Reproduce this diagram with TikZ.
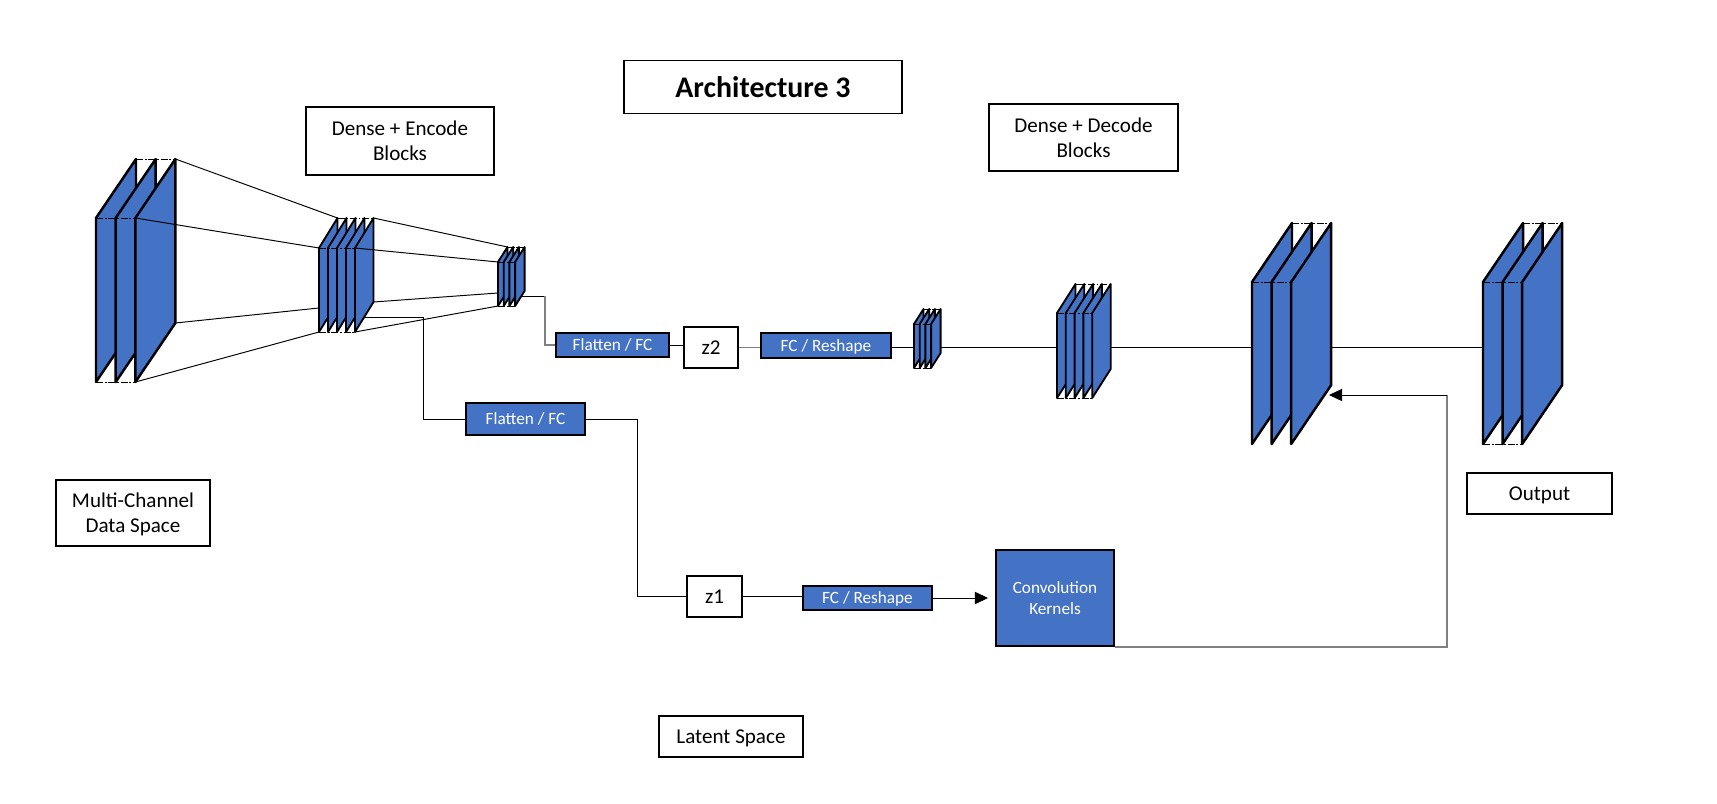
\documentclass[tikz,border=0pt]{standalone}
\usepackage{fontspec}
\setmainfont{Carlito}
\usetikzlibrary {arrows.meta}
\definecolor{plateblue}{HTML}{4472C4}

\tikzset{
    box/.style={draw,line width=1.1pt,fill=white,inner sep=0pt,align=center,text depth=0pt,font=\fontsize{12}{14.3}\selectfont},
    bluebox/.style={box,fill=plateblue,text=white,font=\fontsize{9.8}{12}\selectfont},
    plate/.style={draw,line width=1.4pt,fill=plateblue,line join=round},
    smallplate/.style={plate/.append style={line width=1.05pt}},
    seam/.style={line width=0.5pt,dash pattern=on 4pt off 1pt on 1pt off 1pt},
    wire/.style={line width=0.55pt},
    greywire/.style={line width=0.9pt,color=gray},
    tip/.style={arrows = -{Triangle[length=7.5pt,width=7pt]}}
}

% name, x, y, dx, dy, height, gap, last plate
\newcommand{\plates}[8]{
    \foreach \n in {0,...,#8} {
        \draw[plate] (#2+\n*#7,#3) -- ++(#4,#5) -- ++(0,#6) -- ++(-#4,-#5) -- cycle;
    }
    \coordinate (#1-ft) at (#2,#3);
    \coordinate (#1-fb) at (#2,#3+#6);
    \coordinate (#1-bt) at (#2+#4,#3+#5);
    \coordinate (#1-lft) at (#2+#8*#7,#3);
    \coordinate (#1-lfb) at (#2+#8*#7,#3+#6);
    \coordinate (#1-lbt) at (#2+#8*#7+#4,#3+#5);
    \coordinate (#1-lbb) at (#2+#8*#7+#4,#3+#5+#6);
    \draw[seam] (#1-ft) -- (#1-lft);
    \draw[seam] (#1-bt) -- (#1-lbt);
}

\begin{document}
\begin{tikzpicture}[x=0.02cm,y=-0.02cm]

            \useasboundingbox (0,0) rectangle (1717,804);

            % labels
            \path   (763,87) node (arch) [box,minimum width=278*0.02cm,minimum height=53*0.02cm,font=\fontsize{17}{20}\selectfont\bfseries] {Architecture 3}
                    (400,141) node (enc) [box,minimum width=188*0.02cm,minimum height=68*0.02cm] {Dense + Encode\\Blocks}
                    (1083.5,137.5) node (dec) [box,minimum width=189*0.02cm,minimum height=67*0.02cm] {Dense + Decode\\Blocks}
                    (133,513) node (data) [box,minimum width=154*0.02cm,minimum height=66*0.02cm] {Multi-Channel\\Data Space}
                    (1539.5,493.5) node (out) [box,minimum width=145*0.02cm,minimum height=41*0.02cm] {Output}
                    (731,736.5) node (lat) [box,minimum width=144*0.02cm,minimum height=41*0.02cm] {Latent Space};

            % blue blocks and latent codes
            \path   (612.5,345) node (flata) [bluebox,minimum width=113*0.02cm,minimum height=24*0.02cm] {Flatten / FC}
                    (525.5,419) node (flatb) [bluebox,minimum width=119*0.02cm,minimum height=32*0.02cm] {Flatten / FC}
                    (711,347.5) node (ztwo) [box,minimum width=54*0.02cm,minimum height=41*0.02cm] {z2}
                    (714.5,596.5) node (zone) [box,minimum width=55*0.02cm,minimum height=41*0.02cm] {z1}
                    (826,345.5) node (fca) [bluebox,minimum width=130*0.02cm,minimum height=25*0.02cm] {FC / Reshape}
                    (867.5,598) node (fcb) [bluebox,minimum width=129*0.02cm,minimum height=24*0.02cm] {FC / Reshape}
                    (1055,598) node (conv) [bluebox,minimum width=118*0.02cm,minimum height=96*0.02cm] {Convolution\\Kernels};

            % plate stacks
            \plates{sa}{96}{218}{40}{-59}{164}{19.7}{2}
            \begin{scope}[smallplate]
                \plates{sb}{319}{248}{18.5}{-30}{84}{9}{4}
                \plates{sc}{498}{262}{9.5}{-15}{44}{5.7}{3}
                \plates{sd}{914}{324}{9.5}{-15}{44}{5.7}{3}
                \plates{se}{1057}{313}{18.5}{-29}{85}{8.8}{4}
            \end{scope}
            \plates{sf}{1252}{282}{40}{-59}{162}{19.6}{2}
            \plates{sg}{1483}{282}{40}{-59}{162}{19.6}{2}

            \draw[seam] (sa-fb) -- (sa-lfb);
            \draw[seam] (sb-fb) -- (sb-lfb);
            \draw[seam] (sc-fb) -- (sc-lfb);
            \draw[seam] (sd-fb) -- (sd-lfb);
            \draw[seam] (se-fb) -- (se-lfb);
            \draw[seam] (sg-fb) -- (sg-lfb);

            % free ends on the stacks
            \coordinate (sbin) at (319,308);
            \coordinate (scinb) at (498,293);
            \coordinate (sbout) at (363,317);
            \coordinate (scout) at (521,296);
            \coordinate (sfin) at (1329,395);
            \coordinate (bus) at (0,347);

            % funnel lines
            \draw[wire] (sa-lbt) -- (sb-bt);
            \draw[wire] (sa-lft) -- (sb-ft);
            \draw[wire] (sa-lbb) -- (sbin);
            \draw[wire] (sa-lfb) -- (sb-fb);

            \draw[wire] (sb-lbt) -- (sc-bt);
            \draw[wire] (sb-lft) -- (sc-ft);
            \draw[wire] (sb-lbb) -- (scinb);
            \draw[wire] (sb-lfb) -- (sc-fb);

            % upper branch
            \draw[wire] (scout) -- (scout -| 545,0);
            \draw[greywire] (scout -| 545,0) |- (flata.west);
            \draw[wire] (flata.east) -- (flata.east -| ztwo.west);
            \draw[greywire] (ztwo.east) -- (ztwo.east -| fca.west);
            \draw[wire] (fca.east |- bus) -- (sd-ft |- bus);
            \draw[wire] (sd-lbb |- bus) -- (se-ft |- bus);
            \draw[wire] (se-lbb |- bus) -- (sf-ft |- bus);
            \draw[wire] (sf-lbb |- bus) -- (sg-ft |- bus);

            % lower branch
            \draw[wire] (sbout) -| (423,0 |- flatb.west) -- (flatb.west);
            \draw[wire] (flatb.east) -- (flatb.east -| 637,0) |- (zone.west);
            \draw[wire] (zone.east) -- (zone.east -| fcb.west);
            \draw[wire,tip,shorten >=7*0.02cm] (fcb) -- (conv);
            \draw[greywire] (conv.south east) -- (conv.south east -| 1447,0) -- (1447,0 |- sfin);
            \draw[wire,tip] (1447,0 |- sfin) -- (sfin);

\end{tikzpicture}
\end{document}
